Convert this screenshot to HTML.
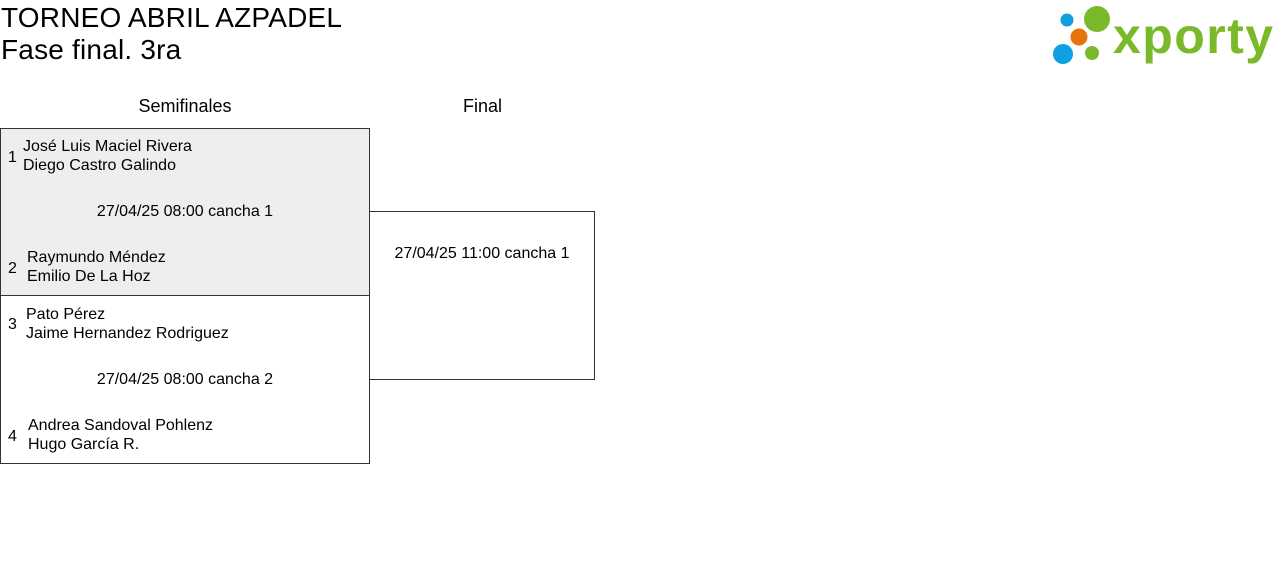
<!DOCTYPE html>
<html><head><meta charset="utf-8"><style>
body{margin:0;width:1280px;height:562px;background:#fff;font-family:"Liberation Sans",sans-serif;color:#000;position:relative;overflow:hidden}
.a{position:absolute;white-space:nowrap}
.t{font-size:16px;line-height:19px}
.box{position:absolute;border:1px solid #333;box-sizing:border-box}
</style></head><body>
<div class="a" style="left:1px;top:2px;font-size:28px;line-height:32px;letter-spacing:0.2px">TORNEO ABRIL AZPADEL</div>
<div class="a" style="left:1px;top:34px;font-size:28px;line-height:32px;letter-spacing:0.2px">Fase final. 3ra</div>
<svg class="a" style="left:1040px;top:0" width="240" height="75">
<circle cx="27" cy="20" r="6.5" fill="#0ea0e0"/>
<circle cx="57" cy="19" r="13" fill="#7ab929"/>
<circle cx="39" cy="37" r="8.5" fill="#e8720c"/>
<circle cx="23" cy="54" r="10" fill="#0ea0e0"/>
<circle cx="52" cy="53" r="7" fill="#7ab929"/>
<text x="73" y="53" font-family="Liberation Sans" font-weight="bold" font-size="50" fill="#7ab929" textLength="160">xporty</text>
</svg>
<div class="a t" style="left:0;width:370px;text-align:center;top:97px;font-size:18px">Semifinales</div>
<div class="a t" style="left:370px;width:225px;text-align:center;top:97px;font-size:18px">Final</div>
<div class="box" style="left:0;top:128px;width:370px;height:168px;background:#eee"></div>
<div class="box" style="left:0;top:295px;width:370px;height:169px"></div>
<div class="box" style="left:369px;top:211px;width:226px;height:169px"></div>
<div class="a t" style="left:8px;top:148px">1</div>
<div class="a t" style="left:23px;top:137px">José Luis Maciel Rivera<br>Diego Castro Galindo</div>
<div class="a t" style="left:0;width:370px;text-align:center;top:202px">27/04/25 08:00 cancha 1</div>
<div class="a t" style="left:8px;top:259px">2</div>
<div class="a t" style="left:27px;top:248px">Raymundo Méndez<br>Emilio De La Hoz</div>
<div class="a t" style="left:8px;top:315px">3</div>
<div class="a t" style="left:26px;top:305px">Pato Pérez<br>Jaime Hernandez Rodriguez</div>
<div class="a t" style="left:0;width:370px;text-align:center;top:370px">27/04/25 08:00 cancha 2</div>
<div class="a t" style="left:8px;top:427px">4</div>
<div class="a t" style="left:28px;top:416px">Andrea Sandoval Pohlenz<br>Hugo García R.</div>
<div class="a t" style="left:369px;width:226px;text-align:center;top:244px">27/04/25 11:00 cancha 1</div>
</body></html>
